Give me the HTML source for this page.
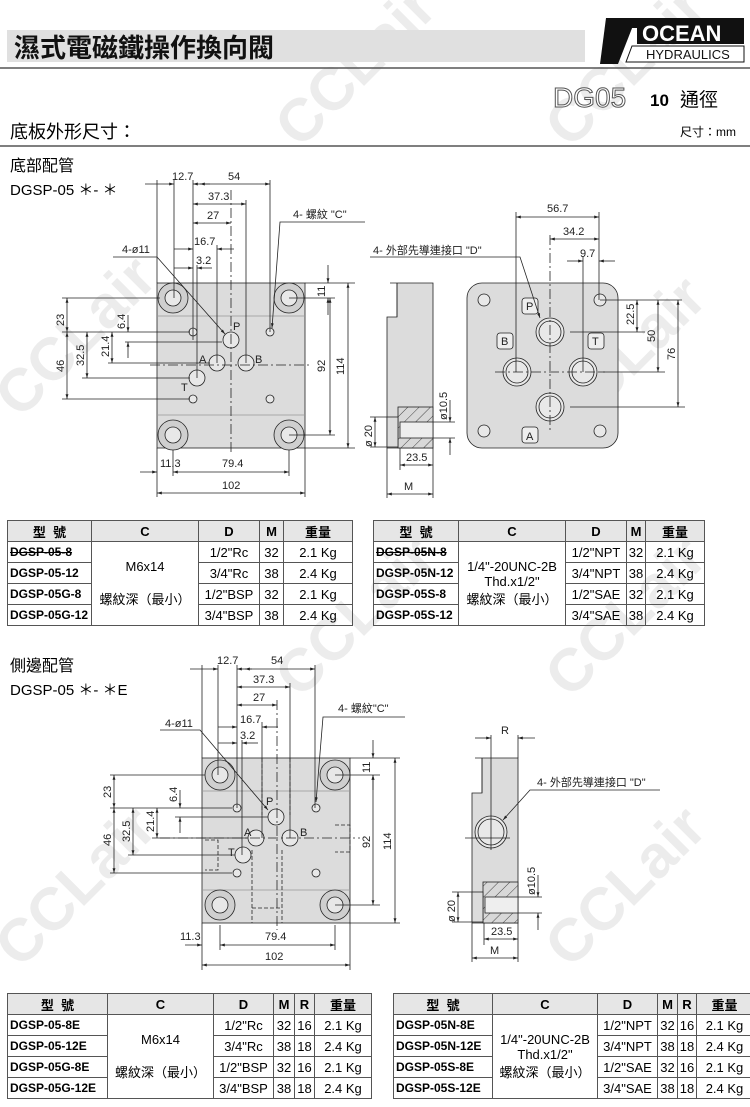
<!DOCTYPE html>
<html><head><meta charset="utf-8"><style>
body{margin:0;background:#fff;}
#w{position:relative;width:750px;height:1107px;overflow:hidden;font-family:"Liberation Sans","Noto Sans CJK TC",sans-serif;}
table{position:absolute;border-collapse:collapse;font-size:13px;}
td{border:1px solid #555;text-align:center;padding:0;height:20px;white-space:nowrap;}
tr.h td{background:#e6e6e6;font-weight:bold;font-size:13px;}
td.m{font-weight:bold;text-align:left;padding-left:2px;font-size:12px;}
</style></head><body><div id="w">
<svg width="750" height="1107" style="position:absolute;left:0;top:0" font-family="Liberation Sans, Noto Sans CJK TC, sans-serif">
<defs>
<marker id="a" viewBox="0 0 10 10" refX="10" refY="5" markerWidth="6" markerHeight="6" orient="auto-start-reverse"><path d="M0,2 L10,5 L0,8z" fill="#222"/></marker>
<pattern id="hh" width="8" height="8" patternUnits="userSpaceOnUse" patternTransform="rotate(45)"><rect width="8" height="8" fill="#d8d8d8"/><line x1="0" y1="0" x2="0" y2="8" stroke="#444" stroke-width="1"/></pattern>
</defs>
<g fill="#ececec" font-weight="bold" font-size="60">
<text transform="translate(20,420) rotate(-45)">CCLair</text>
<text transform="translate(300,150) rotate(-45)">CCLair</text>
<text transform="translate(570,150) rotate(-45)">CCLair</text>
<text transform="translate(570,440) rotate(-45)">CCLair</text>
<text transform="translate(20,970) rotate(-45)">CCLair</text>
<text transform="translate(300,700) rotate(-45)">CCLair</text>
<text transform="translate(570,700) rotate(-45)">CCLair</text>
<text transform="translate(570,970) rotate(-45)">CCLair</text>
</g>
<!-- header -->
<rect x="7" y="30" width="578" height="32" fill="#e0e0e0"/>
<text x="14" y="57" font-size="26" font-weight="bold" fill="#111">濕式電磁鐵操作換向閥</text>
<line x1="0" y1="68" x2="750" y2="68" stroke="#555" stroke-width="1.5"/>
<polygon points="606,18 636,18 618,64 600,64" fill="#111"/>
<polygon points="608,18 640,18 640,28 608,28" fill="#111"/>
<rect x="637" y="18" width="107" height="26" fill="#111"/>
<text x="642" y="41" font-size="22" font-weight="bold" fill="#fff">OCEAN</text>
<polygon points="632,46 744,46 744,62 626,62" fill="#fff" stroke="#111"/>
<text x="646" y="59" font-size="13" fill="#111">HYDRAULICS</text>
<text x="553" y="107" font-size="28" fill="#fff" stroke="#555" stroke-width="1">DG05</text>
<text x="650" y="106" font-size="17" font-weight="bold">10</text>
<text x="680" y="106" font-size="19">通徑</text>
<text x="10" y="138" font-size="18">底板外形尺寸：</text>
<text x="680" y="136" font-size="12">尺寸：mm</text>
<line x1="0" y1="146" x2="750" y2="146" stroke="#555" stroke-width="1.5"/>
<text x="10" y="171" font-size="16">底部配管</text>
<text x="10" y="195" font-size="15">DGSP-05 ＊- ＊</text>
<text x="10" y="671" font-size="16">側邊配管</text>
<text x="10" y="695" font-size="15">DGSP-05 ＊- ＊E</text>

<g stroke="#222" stroke-width="0.8" fill="none">
<rect x="157" y="283" width="148" height="165" fill="#dcdcdc"/>
<line x1="157" y1="316" x2="305" y2="316" stroke="#999"/><line x1="157" y1="415" x2="305" y2="415" stroke="#999"/>
<g fill="#cfcfcf"><circle cx="173" cy="298" r="15"/><circle cx="289" cy="298" r="15"/><circle cx="173" cy="435" r="15"/><circle cx="289" cy="435" r="15"/></g>
<g fill="#e8e8e8"><circle cx="173" cy="298" r="8"/><circle cx="289" cy="298" r="8"/><circle cx="173" cy="435" r="8"/><circle cx="289" cy="435" r="8"/>
<circle cx="193" cy="332" r="4"/><circle cx="270" cy="332" r="4"/><circle cx="193" cy="399" r="4"/><circle cx="270" cy="399" r="4"/>
<circle cx="231" cy="340" r="8"/><circle cx="217" cy="363" r="8"/><circle cx="246" cy="363" r="8"/><circle cx="197" cy="378" r="8"/></g>
<line x1="231" y1="190" x2="231" y2="455" stroke-dasharray="10,3,2,3"/>
<line x1="150" y1="365" x2="312" y2="365" stroke-dasharray="10,3,2,3"/>
<line x1="157" y1="180" x2="157" y2="283"/><line x1="174" y1="180" x2="174" y2="298"/><line x1="193" y1="180" x2="193" y2="340"/><line x1="197" y1="265" x2="197" y2="378"/><line x1="217" y1="245" x2="217" y2="363"/><line x1="246" y1="200" x2="246" y2="363"/><line x1="270" y1="180" x2="270" y2="332"/>
<g marker-end="url(#a)"><line x1="145" y1="184" x2="174" y2="184"/><line x1="210" y1="184" x2="193" y2="184"/><line x1="200" y1="184" x2="270" y2="184" marker-start="url(#a)"/>
<line x1="193" y1="204" x2="246" y2="204" marker-start="url(#a)"/><line x1="193" y1="223" x2="231" y2="223" marker-start="url(#a)"/>
<line x1="174" y1="249" x2="193" y2="249"/><line x1="234" y1="249" x2="217" y2="249"/><line x1="174" y1="268" x2="193" y2="268"/><line x1="212" y1="268" x2="197" y2="268"/></g>
<polyline points="113,257 157,257 225,334" marker-end="url(#a)"/>
<polyline points="365,222 280,222 272,328" marker-end="url(#a)"/>
<line x1="305" y1="283" x2="355" y2="283"/><line x1="289" y1="298" x2="335" y2="298"/><line x1="289" y1="435" x2="335" y2="435"/><line x1="305" y1="448" x2="355" y2="448"/>
<line x1="328" y1="265" x2="328" y2="283" marker-end="url(#a)"/><line x1="328" y1="315" x2="328" y2="298" marker-end="url(#a)"/>
<line x1="330" y1="298" x2="330" y2="435" marker-start="url(#a)" marker-end="url(#a)"/>
<line x1="348" y1="283" x2="348" y2="448" marker-start="url(#a)" marker-end="url(#a)"/>
<line x1="62" y1="298" x2="160" y2="298"/><line x1="62" y1="332" x2="190" y2="332"/><line x1="62" y1="399" x2="190" y2="399"/><line x1="82" y1="378" x2="190" y2="378"/><line x1="108" y1="363" x2="210" y2="363"/><line x1="125" y1="342" x2="222" y2="342"/>
<g marker-start="url(#a)" marker-end="url(#a)"><line x1="67" y1="298" x2="67" y2="332"/><line x1="67" y1="332" x2="67" y2="399"/><line x1="87" y1="332" x2="87" y2="378"/><line x1="112" y1="332" x2="112" y2="363"/></g>
<line x1="128" y1="315" x2="128" y2="332" marker-end="url(#a)"/><line x1="128" y1="358" x2="128" y2="342" marker-end="url(#a)"/>
<line x1="157" y1="448" x2="157" y2="497"/><line x1="173" y1="450" x2="173" y2="476"/><line x1="289" y1="450" x2="289" y2="476"/><line x1="305" y1="448" x2="305" y2="497"/>
<line x1="140" y1="472" x2="157" y2="472" marker-end="url(#a)"/><line x1="173" y1="472" x2="289" y2="472" marker-start="url(#a)" marker-end="url(#a)"/>
<line x1="157" y1="493" x2="305" y2="493" marker-start="url(#a)" marker-end="url(#a)"/>

<path d="M390,283 H433 V448 H387 V317 H397 V283 Z" fill="#dcdcdc"/>
<line x1="397" y1="283" x2="397" y2="317"/>
<rect x="398" y="407" width="35" height="41" fill="url(#hh)"/>
<rect x="387" y="417" width="11" height="30" fill="#dcdcdc"/>
<rect x="400" y="422" width="33" height="16" fill="#eee"/>
<line x1="370" y1="417" x2="387" y2="417"/><line x1="370" y1="447" x2="387" y2="447"/>
<line x1="375" y1="417" x2="375" y2="447" marker-start="url(#a)" marker-end="url(#a)"/>
<line x1="433" y1="422" x2="455" y2="422"/><line x1="433" y1="438" x2="455" y2="438"/>
<line x1="450" y1="400" x2="450" y2="422" marker-end="url(#a)"/><line x1="450" y1="455" x2="450" y2="438" marker-end="url(#a)"/>
<line x1="400" y1="448" x2="400" y2="470"/><line x1="433" y1="448" x2="433" y2="498"/><line x1="387" y1="448" x2="387" y2="498"/>
<line x1="400" y1="465" x2="433" y2="465" marker-start="url(#a)" marker-end="url(#a)"/>
<line x1="387" y1="494" x2="433" y2="494" marker-start="url(#a)" marker-end="url(#a)"/>

<rect x="467" y="283" width="151" height="165" rx="15" fill="#dcdcdc"/>
<g fill="#e8e8e8"><circle cx="484" cy="300" r="6"/><circle cx="600" cy="300" r="6"/><circle cx="484" cy="431" r="6"/><circle cx="600" cy="431" r="6"/>
<circle cx="550" cy="332" r="14"/><circle cx="517" cy="372" r="14"/><circle cx="583" cy="372" r="14"/><circle cx="550" cy="407" r="14"/></g>
<g fill="none"><circle cx="550" cy="332" r="11"/><circle cx="517" cy="372" r="11"/><circle cx="583" cy="372" r="11"/><circle cx="550" cy="407" r="11"/></g>
<g fill="#eee"><rect x="522" y="298" width="16" height="16" rx="3"/><rect x="497" y="333" width="16" height="16" rx="3"/><rect x="588" y="333" width="16" height="16" rx="3"/><rect x="522" y="427" width="16" height="16" rx="3"/></g>
<line x1="550" y1="235" x2="550" y2="430" stroke-dasharray="10,3,2,3"/>
<line x1="495" y1="372" x2="605" y2="372" stroke-dasharray="10,3,2,3"/>
<line x1="516" y1="212" x2="516" y2="372"/><line x1="599" y1="212" x2="599" y2="300"/><line x1="583" y1="256" x2="583" y2="372"/>
<line x1="516" y1="217" x2="599" y2="217" marker-start="url(#a)" marker-end="url(#a)"/>
<line x1="550" y1="239" x2="599" y2="239" marker-start="url(#a)" marker-end="url(#a)"/>
<line x1="567" y1="261" x2="583" y2="261" marker-end="url(#a)"/><line x1="615" y1="261" x2="599" y2="261" marker-end="url(#a)"/>
<line x1="600" y1="300" x2="682" y2="300"/><line x1="570" y1="332" x2="645" y2="332"/><line x1="600" y1="372" x2="665" y2="372"/><line x1="570" y1="407" x2="685" y2="407"/>
<line x1="637" y1="300" x2="637" y2="332" marker-start="url(#a)" marker-end="url(#a)"/>
<line x1="658" y1="300" x2="658" y2="372" marker-start="url(#a)" marker-end="url(#a)"/>
<line x1="678" y1="300" x2="678" y2="407" marker-start="url(#a)" marker-end="url(#a)"/>
<polyline points="370,257 520,257 540,318" marker-end="url(#a)"/>

<rect x="202" y="758" width="148" height="165" fill="#dcdcdc"/>
<line x1="202" y1="791" x2="350" y2="791" stroke="#999"/><line x1="202" y1="890" x2="350" y2="890" stroke="#999"/>
<g fill="#cfcfcf"><circle cx="220" cy="775" r="15"/><circle cx="335" cy="775" r="15"/><circle cx="220" cy="905" r="15"/><circle cx="335" cy="905" r="15"/></g>
<g stroke-dasharray="4,2"><polyline points="262,758 262,815"/><polyline points="290,758 290,815"/><polyline points="252,850 252,923"/><polyline points="282,850 282,923"/><polyline points="205,840 218,840 218,870 205,870"/><polyline points="335,825 350,825 350,852 335,852"/><polyline points="252,908 282,908"/></g>
<g fill="#e8e8e8"><circle cx="220" cy="775" r="8"/><circle cx="335" cy="775" r="8"/><circle cx="220" cy="905" r="8"/><circle cx="335" cy="905" r="8"/>
<circle cx="237" cy="808" r="4"/><circle cx="316" cy="808" r="4"/><circle cx="237" cy="873" r="4"/><circle cx="316" cy="873" r="4"/>
<circle cx="276" cy="817" r="8"/><circle cx="256" cy="838" r="8"/><circle cx="290" cy="838" r="8"/><circle cx="243" cy="855" r="8"/></g>
<line x1="277" y1="700" x2="277" y2="930" stroke-dasharray="10,3,2,3"/>
<line x1="160" y1="838" x2="360" y2="838" stroke-dasharray="10,3,2,3"/>
<line x1="202" y1="665" x2="202" y2="758"/><line x1="218" y1="665" x2="218" y2="775"/><line x1="237" y1="665" x2="237" y2="808"/><line x1="242" y1="740" x2="242" y2="855"/><line x1="262" y1="722" x2="262" y2="838"/><line x1="290" y1="683" x2="290" y2="838"/><line x1="315" y1="665" x2="315" y2="808"/>
<g marker-end="url(#a)"><line x1="190" y1="669" x2="218" y2="669"/><line x1="252" y1="669" x2="237" y2="669"/><line x1="245" y1="669" x2="315" y2="669" marker-start="url(#a)"/>
<line x1="237" y1="687" x2="290" y2="687" marker-start="url(#a)"/><line x1="237" y1="705" x2="277" y2="705" marker-start="url(#a)"/>
<line x1="218" y1="727" x2="237" y2="727"/><line x1="278" y1="727" x2="262" y2="727"/><line x1="218" y1="743" x2="237" y2="743"/><line x1="258" y1="743" x2="242" y2="743"/></g>
<polyline points="160,730 200,730 268,810" marker-end="url(#a)"/>
<polyline points="405,717 323,717 316,802" marker-end="url(#a)"/>
<line x1="350" y1="758" x2="400" y2="758"/><line x1="335" y1="775" x2="380" y2="775"/><line x1="335" y1="905" x2="380" y2="905"/><line x1="350" y1="923" x2="400" y2="923"/>
<line x1="373" y1="740" x2="373" y2="758" marker-end="url(#a)"/><line x1="373" y1="790" x2="373" y2="775" marker-end="url(#a)"/>
<line x1="373" y1="775" x2="373" y2="905" marker-start="url(#a)" marker-end="url(#a)"/>
<line x1="395" y1="758" x2="395" y2="923" marker-start="url(#a)" marker-end="url(#a)"/>
<line x1="110" y1="775" x2="205" y2="775"/><line x1="110" y1="808" x2="232" y2="808"/><line x1="110" y1="873" x2="232" y2="873"/><line x1="128" y1="855" x2="235" y2="855"/><line x1="152" y1="838" x2="248" y2="838"/><line x1="175" y1="817" x2="268" y2="817"/>
<g marker-start="url(#a)" marker-end="url(#a)"><line x1="114" y1="775" x2="114" y2="808"/><line x1="114" y1="808" x2="114" y2="873"/><line x1="133" y1="808" x2="133" y2="855"/><line x1="157" y1="808" x2="157" y2="838"/></g>
<line x1="180" y1="790" x2="180" y2="808" marker-end="url(#a)"/><line x1="180" y1="833" x2="180" y2="817" marker-end="url(#a)"/>
<line x1="202" y1="923" x2="202" y2="970"/><line x1="220" y1="925" x2="220" y2="950"/><line x1="335" y1="925" x2="335" y2="950"/><line x1="350" y1="923" x2="350" y2="970"/>
<line x1="185" y1="945" x2="202" y2="945" marker-end="url(#a)"/><line x1="220" y1="945" x2="335" y2="945" marker-start="url(#a)" marker-end="url(#a)"/>
<line x1="202" y1="965" x2="350" y2="965" marker-start="url(#a)" marker-end="url(#a)"/>

<path d="M475,758 H518 V923 H472 V793 H482 V758 Z" fill="#dcdcdc"/>
<line x1="482" y1="758" x2="482" y2="793"/>
<circle cx="491" cy="832" r="16" fill="#e8e8e8"/><circle cx="491" cy="832" r="13"/>
<line x1="491" y1="735" x2="491" y2="850"/><line x1="465" y1="838" x2="510" y2="838"/>
<rect x="483" y="882" width="35" height="41" fill="url(#hh)"/>
<rect x="472" y="892" width="11" height="30" fill="#dcdcdc"/>
<rect x="485" y="897" width="33" height="16" fill="#eee"/>
<line x1="518" y1="735" x2="518" y2="758"/>
<line x1="475" y1="738" x2="491" y2="738" marker-end="url(#a)"/><line x1="535" y1="738" x2="518" y2="738" marker-end="url(#a)"/>
<polyline points="660,790 530,790 503,820" marker-end="url(#a)"/>
<line x1="452" y1="892" x2="472" y2="892"/><line x1="452" y1="922" x2="472" y2="922"/>
<line x1="458" y1="892" x2="458" y2="922" marker-start="url(#a)" marker-end="url(#a)"/>
<line x1="518" y1="897" x2="542" y2="897"/><line x1="518" y1="913" x2="542" y2="913"/>
<line x1="538" y1="875" x2="538" y2="897" marker-end="url(#a)"/><line x1="538" y1="930" x2="538" y2="913" marker-end="url(#a)"/>
<line x1="484" y1="923" x2="484" y2="945"/><line x1="518" y1="923" x2="518" y2="962"/><line x1="472" y1="923" x2="472" y2="962"/>
<line x1="484" y1="939" x2="518" y2="939" marker-start="url(#a)" marker-end="url(#a)"/>
<line x1="472" y1="958" x2="518" y2="958" marker-start="url(#a)" marker-end="url(#a)"/>
</g>

<g font-size="11" fill="#222">
<text x="172" y="180">12.7</text><text x="228" y="180">54</text><text x="208" y="200">37.3</text><text x="207" y="219">27</text><text x="194" y="245">16.7</text><text x="196" y="264">3.2</text>
<text x="122" y="253">4-ø11</text><text x="293" y="218">4- 螺紋 "C"</text>
<text x="233" y="330">P</text><text x="199" y="363">A</text><text x="255" y="363">B</text><text x="181" y="391">T</text>
<text x="160" y="467">11.3</text><text x="222" y="467">79.4</text><text x="222" y="489">102</text>
<text transform="translate(325,297) rotate(-90)">11</text><text transform="translate(325,372) rotate(-90)">92</text><text transform="translate(344,375) rotate(-90)">114</text>
<text transform="translate(64,326) rotate(-90)">23</text><text transform="translate(64,372) rotate(-90)">46</text><text transform="translate(84,366) rotate(-90)">32.5</text><text transform="translate(109,357) rotate(-90)">21.4</text><text transform="translate(125,329) rotate(-90)">6.4</text>
<text transform="translate(372,447) rotate(-90)">ø 20</text><text transform="translate(447,420) rotate(-90)">ø10.5</text>
<text x="406" y="461">23.5</text><text x="404" y="490">M</text>
<text x="373" y="254">4- 外部先導連接口 "D"</text>
<text x="547" y="212">56.7</text><text x="563" y="235">34.2</text><text x="580" y="257">9.7</text>
<text x="526" y="310">P</text><text x="501" y="345">B</text><text x="592" y="345">T</text><text x="526" y="440">A</text>
<text transform="translate(634,325) rotate(-90)">22.5</text><text transform="translate(655,342) rotate(-90)">50</text><text transform="translate(675,360) rotate(-90)">76</text>
<text x="217" y="664">12.7</text><text x="271" y="664">54</text><text x="253" y="683">37.3</text><text x="253" y="701">27</text><text x="240" y="723">16.7</text><text x="240" y="739">3.2</text>
<text x="165" y="727">4-ø11</text><text x="338" y="712">4- 螺紋"C"</text>
<text x="266" y="805">P</text><text x="244" y="836">A</text><text x="300" y="836">B</text><text x="228" y="856">T</text>
<text x="180" y="940">11.3</text><text x="265" y="940">79.4</text><text x="265" y="960">102</text>
<text transform="translate(370,773) rotate(-90)">11</text><text transform="translate(370,848) rotate(-90)">92</text><text transform="translate(391,850) rotate(-90)">114</text>
<text transform="translate(111,798) rotate(-90)">23</text><text transform="translate(111,846) rotate(-90)">46</text><text transform="translate(130,842) rotate(-90)">32.5</text><text transform="translate(154,832) rotate(-90)">21.4</text><text transform="translate(177,802) rotate(-90)">6.4</text>
<text x="501" y="734">R</text><text x="537" y="786">4- 外部先導連接口 "D"</text>
<text transform="translate(455,922) rotate(-90)">ø 20</text><text transform="translate(535,895) rotate(-90)">ø10.5</text>
<text x="491" y="935">23.5</text><text x="490" y="954">M</text>
</g>
</svg>

<table style="left:7px;top:520px;width:346px">
<tr class="h"><td style="width:83px">型 &nbsp;號</td><td style="width:106px">C</td><td style="width:60px">D</td><td style="width:23px">M</td><td>重量</td></tr>
<tr><td class="m"><s>DGSP-05-8</s></td><td rowspan="4">M6x14<br><br>螺紋深（最小）</td><td>1/2"Rc</td><td>32</td><td>2.1 Kg</td></tr>
<tr><td class="m">DGSP-05-12</td><td>3/4"Rc</td><td>38</td><td>2.4 Kg</td></tr>
<tr><td class="m">DGSP-05G-8</td><td>1/2"BSP</td><td>32</td><td>2.1 Kg</td></tr>
<tr><td class="m">DGSP-05G-12</td><td>3/4"BSP</td><td>38</td><td>2.4 Kg</td></tr>
</table>
<table style="left:373px;top:520px;width:332px">
<tr class="h"><td style="width:84px">型 &nbsp;號</td><td style="width:106px">C</td><td style="width:60px">D</td><td style="width:18px">M</td><td>重量</td></tr>
<tr><td class="m"><s>DGSP-05N-8</s></td><td rowspan="4">1/4"-20UNC-2B<br>Thd.x1/2"<br>螺紋深（最小）</td><td>1/2"NPT</td><td>32</td><td>2.1 Kg</td></tr>
<tr><td class="m">DGSP-05N-12</td><td>3/4"NPT</td><td>38</td><td>2.4 Kg</td></tr>
<tr><td class="m">DGSP-05S-8</td><td>1/2"SAE</td><td>32</td><td>2.1 Kg</td></tr>
<tr><td class="m">DGSP-05S-12</td><td>3/4"SAE</td><td>38</td><td>2.4 Kg</td></tr>
</table>
<table style="left:7px;top:993px;width:365px">
<tr class="h"><td style="width:99px">型 &nbsp;號</td><td style="width:105px">C</td><td style="width:59px">D</td><td style="width:20px">M</td><td style="width:19px">R</td><td>重量</td></tr>
<tr><td class="m">DGSP-05-8E</td><td rowspan="4">M6x14<br><br>螺紋深（最小）</td><td>1/2"Rc</td><td>32</td><td>16</td><td>2.1 Kg</td></tr>
<tr><td class="m">DGSP-05-12E</td><td>3/4"Rc</td><td>38</td><td>18</td><td>2.4 Kg</td></tr>
<tr><td class="m">DGSP-05G-8E</td><td>1/2"BSP</td><td>32</td><td>16</td><td>2.1 Kg</td></tr>
<tr><td class="m">DGSP-05G-12E</td><td>3/4"BSP</td><td>38</td><td>18</td><td>2.4 Kg</td></tr>
</table>
<table style="left:393px;top:993px;width:360px">
<tr class="h"><td style="width:98px">型 &nbsp;號</td><td style="width:104px">C</td><td style="width:59px">D</td><td style="width:19px">M</td><td style="width:18px">R</td><td>重量</td></tr>
<tr><td class="m">DGSP-05N-8E</td><td rowspan="4">1/4"-20UNC-2B<br>Thd.x1/2"<br>螺紋深（最小）</td><td>1/2"NPT</td><td>32</td><td>16</td><td>2.1 Kg</td></tr>
<tr><td class="m">DGSP-05N-12E</td><td>3/4"NPT</td><td>38</td><td>18</td><td>2.4 Kg</td></tr>
<tr><td class="m">DGSP-05S-8E</td><td>1/2"SAE</td><td>32</td><td>16</td><td>2.1 Kg</td></tr>
<tr><td class="m">DGSP-05S-12E</td><td>3/4"SAE</td><td>38</td><td>18</td><td>2.4 Kg</td></tr>
</table>
</div></body></html>
